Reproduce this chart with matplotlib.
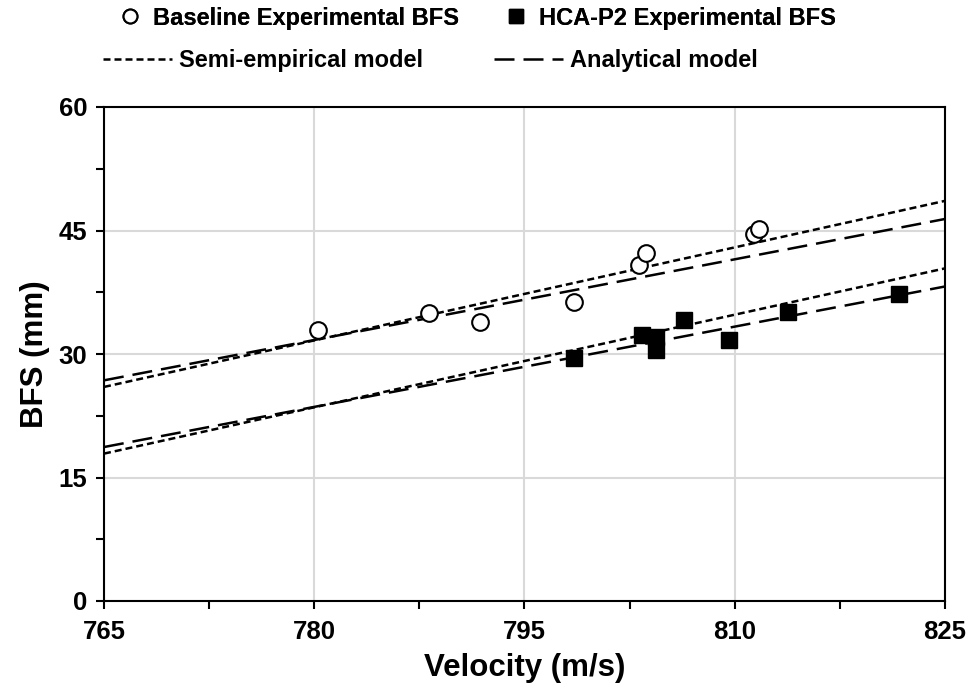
import matplotlib
matplotlib.use("Agg")
import matplotlib.pyplot as plt
from matplotlib.lines import Line2D
from matplotlib.ticker import MultipleLocator

plt.rcParams['font.family'] = ['Liberation Sans', 'DejaVu Sans']
plt.rcParams['font.weight'] = 'bold'

# Data
base_v = [780.3, 788.2, 791.8, 798.5, 803.2, 803.7, 811.4, 811.7]
base_bfs = [32.9, 35.0, 33.9, 36.3, 40.8, 42.3, 44.6, 45.2]
hca_v = [798.5, 803.4, 804.4, 804.4, 806.4, 809.6, 813.8, 821.7]
hca_bfs = [29.5, 32.3, 32.1, 30.5, 34.1, 31.7, 35.1, 37.3]

model_v = [765, 825]
base_semi = [26.0, 48.6]
base_anal = [26.8, 46.4]
hca_semi = [17.9, 40.4]
hca_anal = [18.7, 38.2]

xticks = [765, 780, 795, 810, 825]
yticks = [0, 15, 30, 45, 60]

fig = plt.figure(figsize=(9.72, 6.94), dpi=100)
ax = fig.add_axes([104/972, 93/694, 841/972, 494/694])

short = (2.8, 1.6)
long_ = (8.0, 3.6)
lw = 1.8

ax.plot(model_v, base_semi, color='black', lw=lw, dashes=short, zorder=3)
ax.plot(model_v, base_anal, color='black', lw=lw, dashes=long_, zorder=3)
ax.plot(model_v, hca_semi, color='black', lw=lw, dashes=short, zorder=3)
ax.plot(model_v, hca_anal, color='black', lw=lw, dashes=long_, zorder=3)

ax.plot(base_v, base_bfs, linestyle='none', marker='o', markersize=12,
        markerfacecolor='white', markeredgecolor='black', markeredgewidth=1.5, zorder=4)
ax.plot(hca_v, hca_bfs, linestyle='none', marker='s', markersize=12,
        markerfacecolor='black', markeredgecolor='black', markeredgewidth=1.0, zorder=4)

ax.set_xlim(765, 825)
ax.set_ylim(0, 60)
ax.set_xticks(xticks)
ax.set_yticks(yticks)
ax.xaxis.set_minor_locator(MultipleLocator(7.5))
ax.yaxis.set_minor_locator(MultipleLocator(7.5))
ax.tick_params(which='both', direction='out', length=6, width=1.5, colors='black')
ax.tick_params(which='major', labelsize=18.5)
ax.tick_params(axis='x', which='major', pad=8)
ax.tick_params(axis='y', which='major', pad=6)
ax.grid(True, which='major', color='#d9d9d9', lw=1.5, zorder=0)
ax.set_axisbelow(True)
for s in ax.spines.values():
    s.set_linewidth(1.5)
    s.set_color('black')

ax.set_xlabel('Velocity (m/s)', fontsize=22.5, fontweight='bold', labelpad=6)
ax.set_ylabel('BFS (mm)', fontsize=22.5, fontweight='bold', labelpad=6)

h1 = [Line2D([], [], linestyle='none', marker='o', markersize=10, markerfacecolor='white',
             markeredgecolor='black', markeredgewidth=1.5),
      Line2D([], [], linestyle='none', marker='s', markersize=10, markerfacecolor='black',
             markeredgecolor='black')]
leg1 = fig.legend(h1, ['Baseline Experimental BFS', 'HCA-P2 Experimental BFS'],
                  loc='center left', bbox_to_anchor=(116/972, 1 - 18/694), ncol=2,
                  frameon=False, fontsize=17, handlelength=1.2, handletextpad=0.38,
                  columnspacing=1.78, borderaxespad=0, borderpad=0)
h2 = [Line2D([], [], color='black', lw=lw, dashes=short),
      Line2D([], [], color='black', lw=lw, dashes=long_)]
leg2 = fig.legend(h2, ['Semi-empirical model', 'Analytical model'],
                  loc='center left', bbox_to_anchor=(103/972, 1 - 61/694), ncol=2,
                  frameon=False, fontsize=17, handlelength=2.92, handletextpad=0.3,
                  columnspacing=3.0, borderaxespad=0, borderpad=0)
fig.add_artist(leg1)

fig.savefig('out.png', dpi=100)
